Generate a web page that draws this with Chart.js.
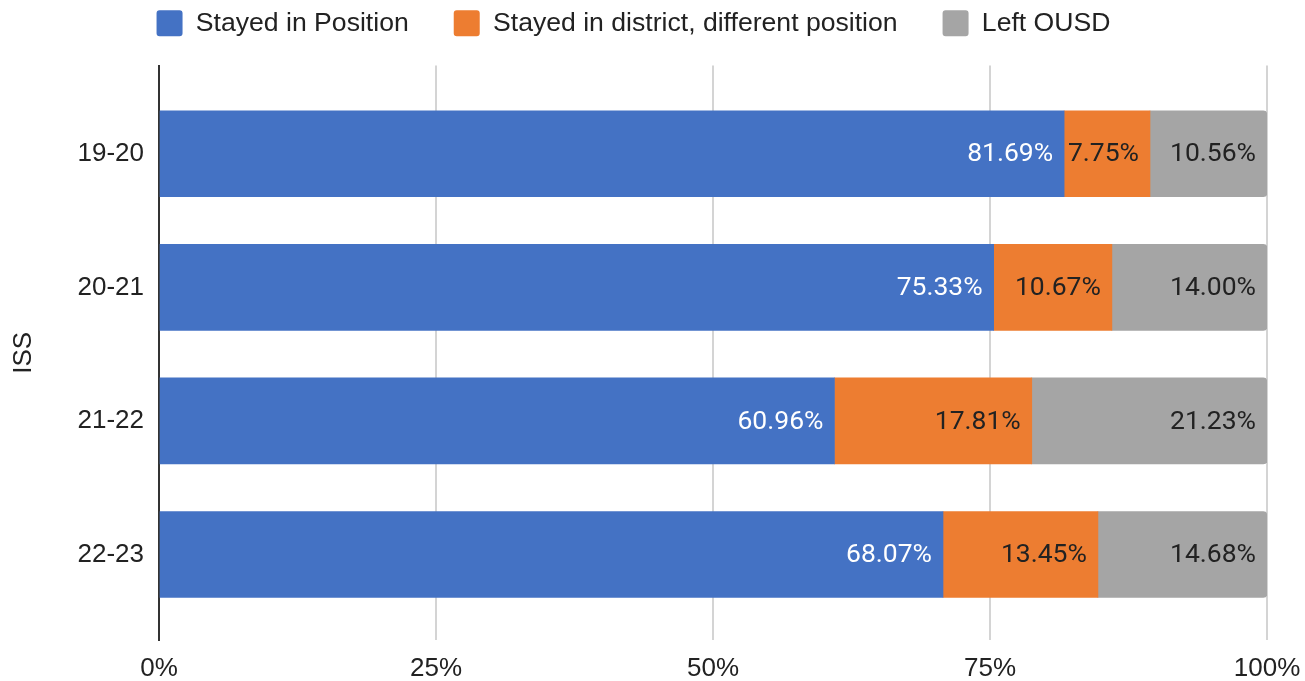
<!DOCTYPE html>
<html>
<head>
<meta charset="utf-8">
<script src="https://cdn.jsdelivr.net/npm/chart.js@4/dist/chart.umd.min.js"></script>
<style>
  html, body { margin: 0; padding: 0; background: #fff; }
  #wrap { width: 1305px; height: 681px; position: relative; }
</style>
</head>
<body>
<div id="wrap"><canvas id="c" width="1305" height="681"></canvas></div>
<script>
// ---- data ----
const categories = ['19-20', '20-21', '21-22', '22-23'];
const seriesNames = ['Stayed in Position', 'Stayed in district, different position', 'Left OUSD'];
const stayedInPosition = [81.69, 75.33, 60.96, 68.07];
const stayedInDistrict = [7.75, 10.67, 17.81, 13.45];
const leftOUSD = [10.56, 14.00, 21.23, 14.68];
const xTickValues = [0, 25, 50, 75, 100];
const axisTitle = 'ISS';

const seriesValues = [stayedInPosition, stayedInDistrict, leftOUSD];
const colors = ['#4472C4', '#ED7D31', '#A5A5A5'];
const labelColors = ['#ffffff', '#222222', '#222222'];

// 100% stacked: share of each row total
const totals = categories.map((_, i) => seriesValues.reduce((s, arr) => s + arr[i], 0));

const datasets = seriesValues.map((vals, d) => ({
  label: seriesNames[d],
  data: vals.map((v, i) => ({ x: v / totals[i] * 100, y: i })),
  backgroundColor: colors[d],
  borderWidth: 0,
  barThickness: 86,
  borderRadius: d === seriesValues.length - 1 ? 4 : 0,
  borderSkipped: 'start'
}));

const valueLabels = {
  id: 'valueLabels',
  afterDatasetsDraw(chart) {
    const ctx = chart.ctx;
    ctx.save();
    ctx.font = '26.5px Roboto';
    ctx.textAlign = 'right';
    ctx.textBaseline = 'middle';
    chart.data.datasets.forEach((ds, d) => {
      const meta = chart.getDatasetMeta(d);
      meta.data.forEach((el, i) => {
        ctx.fillStyle = labelColors[d];
        ctx.fillText(seriesValues[d][i].toFixed(2) + '%', el.x - 11, el.y + 1);
      });
    });
    ctx.restore();
  }
};

const axisFont = { family: '"Liberation Sans", Arial, sans-serif', size: 26 };
const legendFont = { family: '"Liberation Sans", Arial, sans-serif', size: 26.6 };

new Chart(document.getElementById('c'), {
  type: 'bar',
  data: { datasets },
  plugins: [valueLabels],
  options: {
    indexAxis: 'y',
    responsive: false,
    animation: false,
    devicePixelRatio: 1,
    layout: { padding: { top: -35, right: 38, bottom: 0, left: 0 } },
    plugins: {
      legend: {
        position: 'top',
        labels: {
          boxWidth: 26,
          boxHeight: 26,
          padding: 45,
          color: '#222',
          font: legendFont,
          useBorderRadius: true,
          borderRadius: 3
        }
      },
      subtitle: {
        display: true,
        text: '',
        weight: 500,
        position: 'top',
        font: { size: 1, lineHeight: 1 },
        padding: { top: 18, bottom: 0 }
      },
      tooltip: { enabled: false }
    },
    scales: {
      x: {
        type: 'linear',
        stacked: true,
        min: 0,
        max: 100,
        afterBuildTicks: s => { s.ticks = xTickValues.map(v => ({ value: v })); },
        afterFit: s => { s.height = 41; s.paddingRight = 0; s.paddingLeft = 0; },
        ticks: {
          callback: v => v + '%',
          color: '#222',
          font: axisFont,
          padding: 13,
          maxRotation: 0
        },
        grid: { color: '#d4d4d4', lineWidth: 2, drawTicks: false },
        border: { display: false }
      },
      y: {
        type: 'linear',
        stacked: true,
        reverse: true,
        offset: false,
        min: -0.66,
        max: 3.64,
        afterBuildTicks: s => { s.ticks = categories.map((_, i) => ({ value: i })); },
        afterFit: s => { s.width = 159; },
        ticks: {
          callback: v => categories[v],
          color: '#222',
          font: axisFont,
          padding: 15
        },
        grid: { display: false, drawTicks: false, offset: false },
        border: { display: true, color: '#333', width: 2 },
        title: {
          display: true,
          text: axisTitle,
          color: '#222',
          font: axisFont,
          padding: { top: 8, bottom: 0 }
        }
      }
    }
  }
});
</script>
</body>
</html>
